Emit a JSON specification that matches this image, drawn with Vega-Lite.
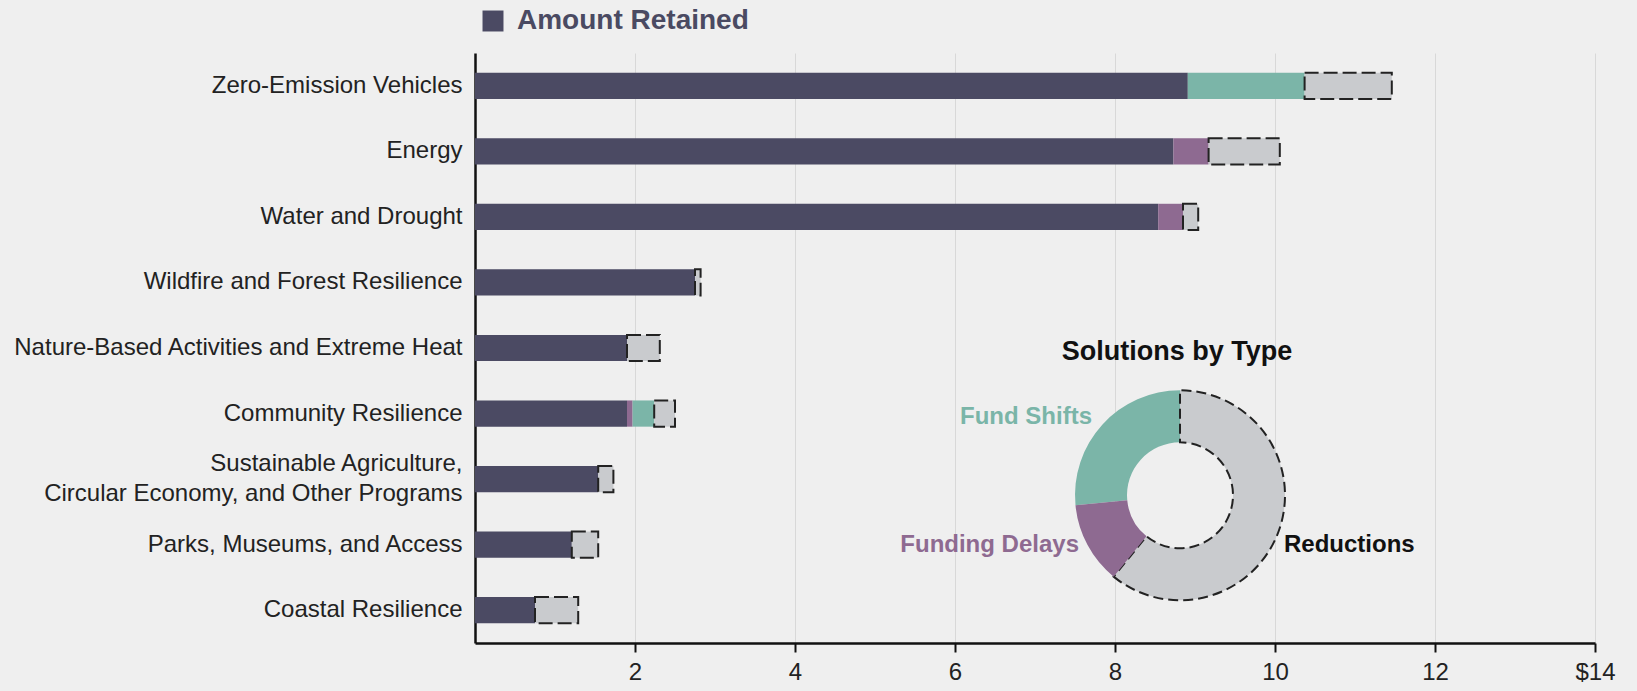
{
  "$schema": "https://vega.github.io/schema/vega-lite/v6.json",
  "width": 1120,
  "height": 590,
  "autosize": {"type": "none"},
  "padding": {"left": 475, "top": 53, "right": 42, "bottom": 48},
  "background": "#efefef",
  "config": {"font": "Liberation Sans", "view": {"stroke": null}},
  "datasets": {
    "bars": [
      {"category": "Zero-Emission Vehicles", "type": "Amount Retained", "value": 8.91},
      {"category": "Zero-Emission Vehicles", "type": "Fund Shifts", "value": 1.46},
      {"category": "Zero-Emission Vehicles", "type": "Reductions", "value": 1.09},
      {"category": "Energy", "type": "Amount Retained", "value": 8.73},
      {"category": "Energy", "type": "Funding Delays", "value": 0.44},
      {"category": "Energy", "type": "Reductions", "value": 0.89},
      {"category": "Water and Drought", "type": "Amount Retained", "value": 8.54},
      {"category": "Water and Drought", "type": "Funding Delays", "value": 0.31},
      {"category": "Water and Drought", "type": "Reductions", "value": 0.19},
      {"category": "Wildfire and Forest Resilience", "type": "Amount Retained", "value": 2.75},
      {"category": "Wildfire and Forest Resilience", "type": "Reductions", "value": 0.07},
      {"category": "Nature-Based Activities and Extreme Heat", "type": "Amount Retained", "value": 1.9},
      {"category": "Nature-Based Activities and Extreme Heat", "type": "Reductions", "value": 0.41},
      {"category": "Community Resilience", "type": "Amount Retained", "value": 1.9},
      {"category": "Community Resilience", "type": "Funding Delays", "value": 0.07},
      {"category": "Community Resilience", "type": "Fund Shifts", "value": 0.27},
      {"category": "Community Resilience", "type": "Reductions", "value": 0.26},
      {"category": "Sustainable Agriculture, Circular Economy, and Other Programs", "type": "Amount Retained", "value": 1.54},
      {"category": "Sustainable Agriculture, Circular Economy, and Other Programs", "type": "Reductions", "value": 0.19},
      {"category": "Parks, Museums, and Access", "type": "Amount Retained", "value": 1.21},
      {"category": "Parks, Museums, and Access", "type": "Reductions", "value": 0.33},
      {"category": "Coastal Resilience", "type": "Amount Retained", "value": 0.75},
      {"category": "Coastal Resilience", "type": "Reductions", "value": 0.54}
    ],
    "types": [
      {"type": "Amount Retained", "ord": 0},
      {"type": "Funding Delays", "ord": 1},
      {"type": "Fund Shifts", "ord": 2},
      {"type": "Reductions", "ord": 3}
    ]
  },
  "layer": [
    {
      "data": {"name": "bars"},
      "transform": [
        {"lookup": "type", "from": {"data": {"name": "types"}, "key": "type", "fields": ["ord"]}}
      ],
      "mark": {"type": "bar", "strokeWidth": 2, "strokeDash": [14, 5]},
      "encoding": {
        "y": {
          "field": "category",
          "type": "nominal",
          "sort": null,
          "scale": {"paddingInner": 0.6, "paddingOuter": 0.3},
          "axis": {
            "title": null,
            "ticks": false,
            "grid": false,
            "domainColor": "#111111",
            "domainWidth": 2.5,
            "labelFontSize": 24,
            "labelColor": "#222222",
            "labelPadding": 13,
            "labelLimit": 700,
            "labelLineHeight": 30,
            "labelOffset": {
              "condition": {"test": "datum.value == 'Sustainable Agriculture, Circular Economy, and Other Programs'", "value": -15},
              "value": 0
            },
            "labelExpr": "datum.value == 'Sustainable Agriculture, Circular Economy, and Other Programs' ? ['Sustainable Agriculture,', 'Circular Economy, and Other Programs'] : datum.label"
          }
        },
        "x": {
          "field": "value",
          "type": "quantitative",
          "stack": "zero",
          "scale": {"domain": [0, 14], "nice": false},
          "axis": {
            "title": null,
            "values": [2, 4, 6, 8, 10, 12, 14],
            "format": "d",
            "labelExpr": "datum.value == 14 ? '$14' : datum.label",
            "tickSize": 9,
            "tickWidth": 2,
            "tickColor": "#111111",
            "domainColor": "#111111",
            "domainWidth": 2.5,
            "labelFontSize": 24,
            "labelColor": "#222222",
            "labelPadding": 8,
            "labelFlush": false,
            "labelOverlap": false,
            "grid": true,
            "gridColor": "#d8d8d8",
            "gridWidth": 1
          }
        },
        "order": {"field": "ord", "type": "quantitative", "sort": "ascending"},
        "color": {
          "field": "type",
          "type": "nominal",
          "scale": {
            "domain": ["Amount Retained", "Funding Delays", "Fund Shifts", "Reductions"],
            "range": ["#4b4a63", "#8e6a91", "#7bb5a8", "#c9cbce"]
          },
          "legend": {
            "values": ["Amount Retained"],
            "title": null,
            "orient": "none",
            "legendX": 4,
            "legendY": -46,
            "padding": 0,
            "symbolType": "square",
            "symbolSize": 440,
            "symbolStrokeWidth": 0,
            "symbolOpacity": 1,
            "labelFontSize": 28,
            "labelFontWeight": "bold",
            "labelColor": "#4a4a62",
            "labelOffset": 10,
            "labelLimit": 500
          }
        },
        "stroke": {
          "condition": {"test": "datum.type === 'Reductions'", "value": "#222222"},
          "value": "transparent"
        }
      }
    },
    {
      "layer": [
        {
          "data": {"name": "bars"},
          "transform": [
            {"filter": "datum.type !== 'Amount Retained'"},
            {"aggregate": [{"op": "sum", "field": "value", "as": "total"}], "groupby": ["type"]}
          ],
          "mark": {"type": "arc", "radius": 105, "innerRadius": 53, "strokeWidth": 2, "strokeDash": [10, 5]},
          "encoding": {
            "x": {"datum": 8.8125, "type": "quantitative"},
            "y": {"datum": 0.2504, "type": "quantitative", "scale": {"domain": [0, 1], "nice": false}, "axis": null},
            "theta": {"field": "total", "type": "quantitative", "stack": true},
            "order": {"field": "type", "sort": "descending"},
            "color": {"field": "type", "type": "nominal"},
            "stroke": {
              "condition": {"test": "datum.type === 'Reductions'", "value": "#222222"},
              "value": "transparent"
            }
          }
        },
        {
          "data": {"values": [{"label": "Solutions by Type"}]},
          "mark": {"type": "text", "fontSize": 27, "fontWeight": "bold", "align": "center", "baseline": "middle", "color": "#111111"},
          "encoding": {
            "text": {"field": "label"},
            "x": {"datum": 8.775, "type": "quantitative"},
            "y": {"datum": 0.494, "type": "quantitative", "scale": {"domain": [0, 1], "nice": false}, "axis": null}
          }
        },
        {
          "data": {"values": [{"label": "Fund Shifts"}]},
          "mark": {"type": "text", "fontSize": 24, "fontWeight": "bold", "align": "right", "baseline": "middle", "color": "#7ab5a8"},
          "encoding": {
            "text": {"field": "label"},
            "x": {"datum": 7.7125, "type": "quantitative"},
            "y": {"datum": 0.3824, "type": "quantitative", "scale": {"domain": [0, 1], "nice": false}, "axis": null}
          }
        },
        {
          "data": {"values": [{"label": "Funding Delays"}]},
          "mark": {"type": "text", "fontSize": 24, "fontWeight": "bold", "align": "right", "baseline": "middle", "color": "#8e6a91"},
          "encoding": {
            "text": {"field": "label"},
            "x": {"datum": 7.55, "type": "quantitative"},
            "y": {"datum": 0.1658, "type": "quantitative", "scale": {"domain": [0, 1], "nice": false}, "axis": null}
          }
        },
        {
          "data": {"values": [{"label": "Reductions"}]},
          "mark": {"type": "text", "fontSize": 24, "fontWeight": "bold", "align": "left", "baseline": "middle", "color": "#111111"},
          "encoding": {
            "text": {"field": "label"},
            "x": {"datum": 10.1125, "type": "quantitative"},
            "y": {"datum": 0.1658, "type": "quantitative", "scale": {"domain": [0, 1], "nice": false}, "axis": null}
          }
        }
      ]
    }
  ],
  "resolve": {"scale": {"y": "independent"}, "axis": {"y": "independent"}}
}
